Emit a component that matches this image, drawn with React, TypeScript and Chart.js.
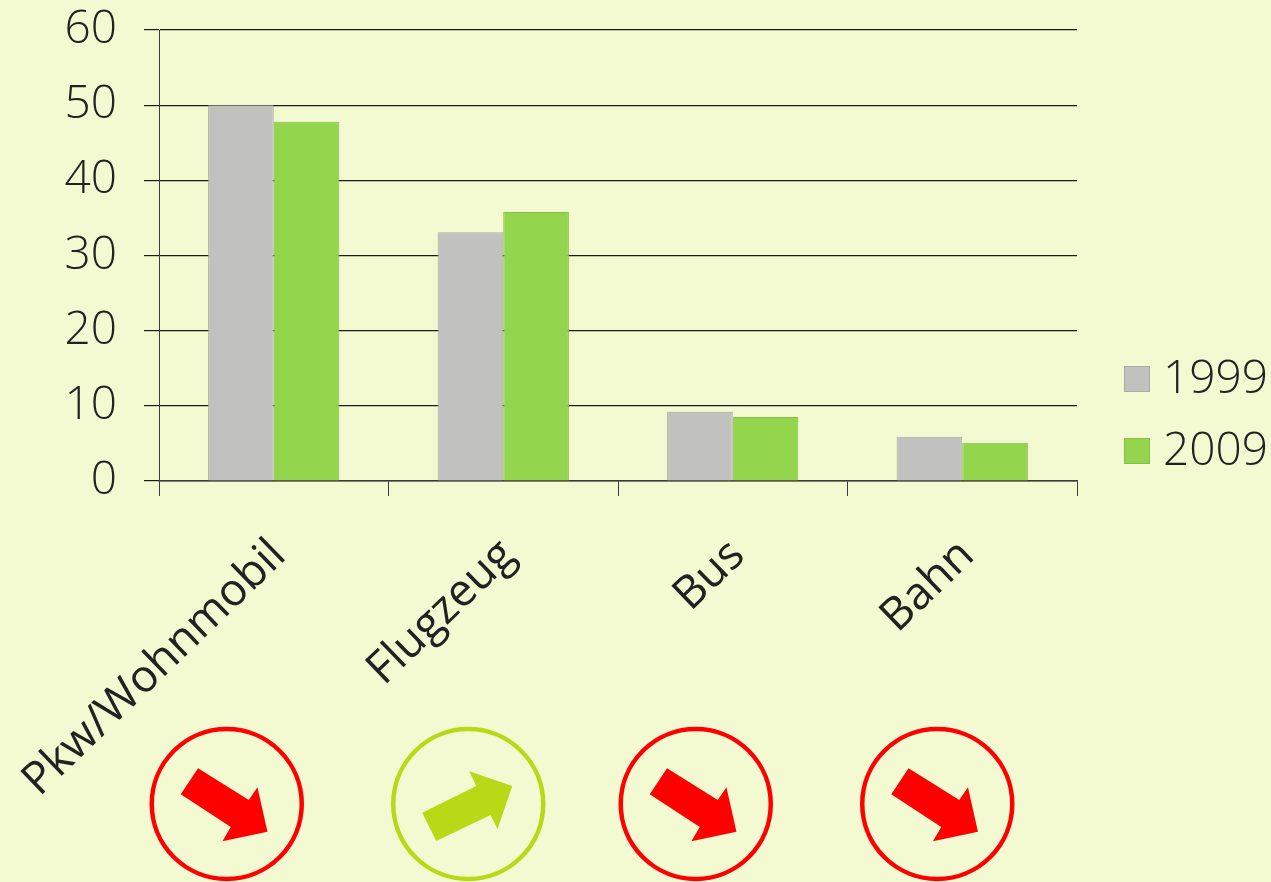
import React, { useEffect, useRef } from "react";
import { Chart, registerables } from "chart.js";

Chart.register(...registerables);

const categories = ["Pkw/Wohnmobil", "Flugzeug", "Bus", "Bahn"];
const values1999 = [50, 33.1, 9.2, 5.9];
const values2009 = [47.8, 35.8, 8.5, 5.1];
const trends = ["down", "up", "down", "down"];
const yTicks = [0, 10, 20, 30, 40, 50, 60];

const BACKGROUND = "#f3f9d1";
const TEXT = "#222222";
const FONT = '"Open Sans", sans-serif';

// Horizontal offset of each trend badge from its category centre.
const badgeOffsets = [-47, -35, -37, -25];
const badgeY = 804;
const badgeRadius = 75;

const arrowShapes: Record<string, { color: string; points: number[][] }> = {
  down: {
    color: "#ff0000",
    points: [[-28.7, -35.7], [-46, -9.7], [4, 23], [-4.3, 37.3], [40.7, 27.7], [30.7, -16.7], [22, -4]],
  },
  up: {
    color: "#b9d816",
    points: [[-46, 8.7], [-32, 37], [22.3, 11], [29.3, 25], [44, -18], [1, -32.7], [8, -18]],
  },
};

// Trend badges beneath the category labels: a ring holding an arrow.
const trendBadges = {
  id: "trendBadges",
  afterDraw(chart: any) {
    const { ctx, scales } = chart;
    trends.forEach((trend, i) => {
      const shape = arrowShapes[trend];
      const cx = scales.x.getPixelForValue(i) + badgeOffsets[i];
      ctx.save();
      ctx.beginPath();
      ctx.arc(cx, badgeY, badgeRadius, 0, Math.PI * 2);
      ctx.lineWidth = 4.5;
      ctx.strokeStyle = shape.color;
      ctx.stroke();
      ctx.beginPath();
      shape.points.forEach(([dx, dy], k) => {
        if (k === 0) ctx.moveTo(cx + dx, badgeY + dy);
        else ctx.lineTo(cx + dx, badgeY + dy);
      });
      ctx.closePath();
      ctx.fillStyle = shape.color;
      ctx.fill();
      ctx.restore();
    });
  },
};

// Series key at the lower right, beside the plot.
const sideLegend = {
  id: "sideLegend",
  afterDraw(chart: any) {
    const { ctx } = chart;
    chart.data.datasets.forEach((ds: any, i: number) => {
      const y = 379 + i * 72;
      ctx.save();
      ctx.fillStyle = ds.backgroundColor;
      ctx.strokeStyle = ds.borderColor;
      ctx.lineWidth = 1;
      ctx.fillRect(1124, y - 13, 26, 26);
      ctx.strokeRect(1124.5, y - 12.5, 25, 25);
      ctx.fillStyle = TEXT;
      ctx.font = `300 46px ${FONT}`;
      ctx.textBaseline = "middle";
      ctx.textAlign = "left";
      ctx.fillText(ds.label, 1163, y + 1);
      ctx.restore();
    });
  },
};

export default function App() {
  const ref = useRef<HTMLCanvasElement>(null);

  useEffect(() => {
    const chart = new Chart(ref.current!, {
      type: "bar",
      data: {
        labels: categories,
        datasets: [
          {
            label: "1999",
            data: values1999,
            backgroundColor: "#c1c1c0",
            borderColor: "#a9aca0",
            borderWidth: 1,
          },
          {
            label: "2009",
            data: values2009,
            backgroundColor: "#93d54c",
            borderColor: "#86bd4c",
            borderWidth: 1,
          },
        ],
      },
      options: {
        responsive: false,
        animation: false,
        layout: { padding: { top: 30, right: 194, left: 0, bottom: 0 } },
        plugins: { legend: { display: false }, tooltip: { enabled: false } },
        datasets: { bar: { categoryPercentage: 0.572, barPercentage: 1 } },
        scales: {
          x: {
            afterFit(scale: any) {
              scale.height = 401;
              scale.paddingLeft = 0;
              scale.paddingRight = 0;
            },
            border: { color: "#3c3c34", width: 1.5 },
            grid: {
              drawOnChartArea: false,
              drawTicks: true,
              tickLength: 15,
              color: "#3c3c34",
            },
            ticks: {
              autoSkip: false,
              minRotation: 44,
              maxRotation: 44,
              padding: 33,
              labelOffset: 5,
              color: TEXT,
              font: { family: FONT, size: 45, weight: "400" },
            },
          },
          y: {
            min: 0,
            max: 60,
            afterFit(scale: any) {
              scale.width = 159;
              scale.paddingTop = 0;
              scale.paddingBottom = 0;
            },
            afterBuildTicks(scale: any) {
              scale.ticks = yTicks.map((value) => ({ value }));
            },
            border: { color: "#3c3c34", width: 1 },
            grid: { color: "#1c1c14", lineWidth: 1.2, tickLength: 15 },
            ticks: {
              padding: 27,
              color: TEXT,
              font: { family: FONT, size: 46, weight: "300" },
            },
          },
        },
      },
      plugins: [trendBadges, sideLegend],
    } as any);
    return () => chart.destroy();
  }, []);

  return (
    <div style={{ position: "fixed", left: 0, top: 0, width: 1271, height: 882, background: BACKGROUND }}>
      <canvas ref={ref} width={1271} height={882} style={{ display: "block" }} />
    </div>
  );
}
